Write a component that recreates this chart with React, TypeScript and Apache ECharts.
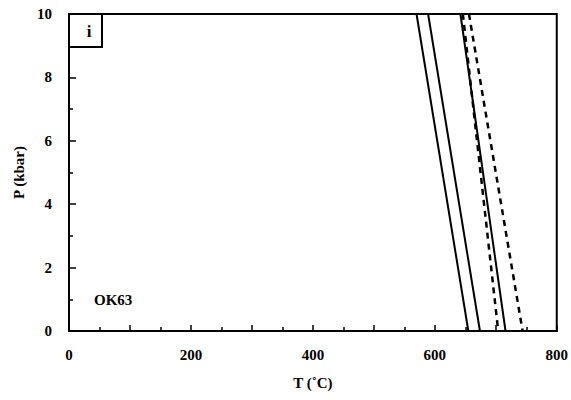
import React, { useEffect, useRef } from "react";
import * as echarts from "echarts";

const pressure = [10, 0];
const solidA = [570, 655];
const solidB = [589, 674];
const solidC = [642, 716];
const dashedA = [646, 704];
const dashedB = [656, 744];
const xTicks = [0, 800];
const yTicks = [0, 10];
const panelLabel = "i";
const sampleLabel = "OK63";

const FONT = "Liberation Serif";

function pairs(ts: number[]) {
  return ts.map((t, i) => [t, pressure[i]]);
}

export default function App() {
  const ref = useRef<HTMLDivElement>(null);
  useEffect(() => {
    document.body.style.margin = "0";
    const chart = echarts.init(ref.current!, undefined, { renderer: "svg" });
    const solid = (name: string, d: number[]) => ({
      name,
      type: "line",
      data: pairs(d),
      showSymbol: false,
      lineStyle: { color: "#000", width: 2 },
    });
    const dashed = (name: string, d: number[]) => ({
      name,
      type: "line",
      data: pairs(d),
      showSymbol: false,
      lineStyle: { color: "#000", width: 2.5, type: [6, 5] },
    });
    chart.setOption({
      animation: false,
      backgroundColor: "#fff",
      grid: {
        left: 69,
        right: 13,
        top: 14,
        bottom: 69,
        show: true,
        borderColor: "#000",
        borderWidth: 2,
      },
      xAxis: {
        type: "value",
        min: xTicks[0],
        max: xTicks[1],
        interval: 100,
        name: "T (˚C)",
        nameLocation: "middle",
        nameGap: 44,
        nameTextStyle: { fontFamily: FONT, fontWeight: "bold", fontSize: 15, color: "#000" },
        axisLine: { lineStyle: { color: "#000", width: 2 } },
        axisTick: { inside: true, length: 6, lineStyle: { color: "#000", width: 1.5 } },
        minorTick: { show: true, splitNumber: 2, length: 4, lineStyle: { color: "#000", width: 1.5 } },
        splitLine: { show: false },
        axisLabel: {
          margin: 16,
          fontFamily: FONT,
          fontWeight: "bold",
          fontSize: 15,
          color: "#000",
          formatter: (v: number) => (v % 200 === 0 ? String(v) : ""),
        },
      },
      yAxis: {
        type: "value",
        min: yTicks[0],
        max: yTicks[1],
        interval: 2,
        name: "P (kbar)",
        nameLocation: "middle",
        nameGap: 36,
        nameTextStyle: { fontFamily: FONT, fontWeight: "bold", fontSize: 15, color: "#000" },
        axisLine: { show: true, lineStyle: { color: "#000", width: 2 } },
        axisTick: { show: true, inside: true, length: 7, lineStyle: { color: "#000", width: 1.5 } },
        minorTick: { show: true, splitNumber: 2, length: 4, lineStyle: { color: "#000", width: 1.5 } },
        splitLine: { show: false },
        axisLabel: {
          margin: 17,
          fontFamily: FONT,
          fontWeight: "bold",
          fontSize: 15,
          color: "#000",
        },
      },
      graphic: [
        {
          type: "rect",
          shape: { x: 69, y: 14, width: 33, height: 33 },
          style: { fill: "#fff", stroke: "#000", lineWidth: 2 },
          z: 10,
        },
        {
          type: "text",
          x: 89,
          y: 31,
          style: {
            text: panelLabel,
            fontFamily: FONT,
            fontWeight: "bold",
            fontSize: 17,
            fill: "#000",
            align: "center",
            verticalAlign: "middle",
          },
          z: 11,
        },
        {
          type: "text",
          x: 94,
          y: 300,
          style: {
            text: sampleLabel,
            fontFamily: FONT,
            fontWeight: "bold",
            fontSize: 15,
            fill: "#000",
            align: "left",
            verticalAlign: "middle",
          },
          z: 11,
        },
      ],
      series: [
        solid("a", solidA),
        solid("b", solidB),
        solid("c", solidC),
        dashed("d", dashedA),
        dashed("e", dashedB),
      ],
    });
    return () => chart.dispose();
  }, []);
  return <div ref={ref} style={{ width: 571, height: 400 }} />;
}
